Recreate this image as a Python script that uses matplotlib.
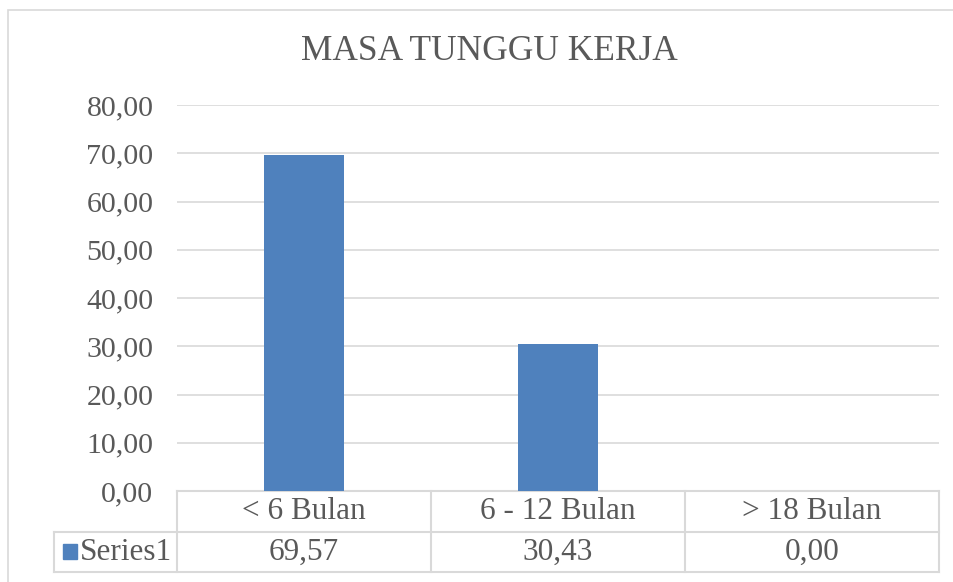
import numpy as np
import matplotlib.pyplot as plt
from matplotlib.patches import Rectangle

# data
categories = ['< 6 Bulan', '6 - 12 Bulan', '> 18 Bulan']
values = [69.57, 30.43, 0.00]
series_name = 'Series1'
yticks = [0, 10, 20, 30, 40, 50, 60, 70, 80]

plt.rcParams['font.family'] = ['Liberation Serif', 'DejaVu Serif']
TXT = '#595959'
GRID = '#d9d9d9'
BAR = '#4f81bd'

W, H = 954, 582
fig = plt.figure(figsize=(W / 100, H / 100), dpi=100)

# chart border
fig.patches.append(Rectangle((8 / W, -0.05), 1.0, 1 - 10 / H + 0.05, transform=fig.transFigure,
                             fill=False, edgecolor=GRID, linewidth=1.2))

left, right, top, bottom = 177, 939, 105, 491
ax = fig.add_axes([left / W, 1 - bottom / H, (right - left) / W, (bottom - top) / H])

X = np.arange(len(categories))
ax.bar(X, values, width=0.315, color=BAR, zorder=3)
ax.set_xlim(-0.5, len(categories) - 0.5)
ax.set_ylim(0, 80)
ax.set_yticks(yticks)
ax.set_yticklabels([('%.2f' % v).replace('.', ',') for v in yticks], fontsize=21.5, color=TXT)
ax.tick_params(axis='y', length=0, pad=17)
ax.set_xticks([])
for s in ax.spines.values():
    s.set_visible(False)
ax.yaxis.grid(True, color=GRID, linewidth=1.2, zorder=0)
ax.set_axisbelow(True)

fig.text(0.5 * (302 + 677) / W, 1 - 52 / H, 'MASA TUNGGU KERJA', ha='center', va='center',
         fontsize=25.5, color=TXT)

# data table drawn in axes fraction
ph = bottom - top
pw = right - left
r1 = -41 / ph
r2 = -81 / ph
tl = (54 - left) / pw
lk = dict(color=GRID, linewidth=1.5, clip_on=False, transform=ax.transAxes)
ax.plot([0, 1], [0, 0], **lk)
ax.plot([tl, 1], [r1, r1], **lk)
ax.plot([tl, 1], [r2, r2], **lk)
ax.plot([tl, tl], [r1, r2], **lk)
for i in range(len(categories) + 1):
    xf = i / len(categories)
    ax.plot([xf, xf], [0, r2], **lk)

for i, (c, v) in enumerate(zip(categories, values)):
    xf = (i + 0.5) / len(categories)
    ax.text(xf, r1 / 2, c, transform=ax.transAxes, ha='center', va='center', fontsize=22.5, color=TXT)
    ax.text(xf, (r1 + r2) / 2, ('%.2f' % v).replace('.', ','), transform=ax.transAxes,
            ha='center', va='center', fontsize=22.5, color=TXT)

# legend key in table
ax.add_patch(Rectangle(((63 - left) / pw, (r1 + r2) / 2 - 7 / ph), 14 / pw, 15 / ph,
                       transform=ax.transAxes, color=BAR, clip_on=False))
ax.text((80 - left) / pw, (r1 + r2) / 2, series_name, transform=ax.transAxes, ha='left',
        va='center', fontsize=22.5, color=TXT)

fig.savefig('out.png', dpi=100)
